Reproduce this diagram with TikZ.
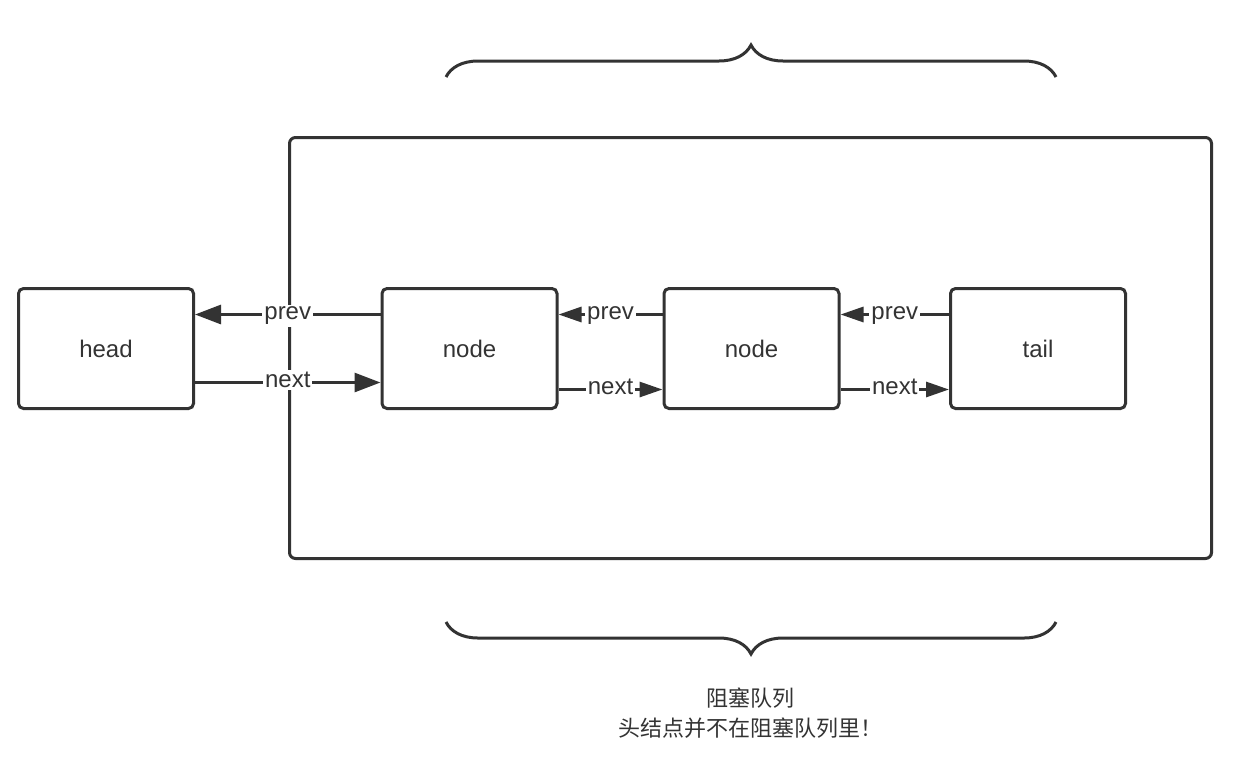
\documentclass[tikz,border=0pt]{standalone}
\usepackage{fontspec}
\setmainfont{Liberation Sans}
\newfontfamily\cjk{Noto Sans CJK SC}
\usetikzlibrary{arrows.meta,decorations.pathreplacing}
\definecolor{ink}{HTML}{333333}

\tikzset{
  box/.style={draw=ink, line width=1.5pt, rounded corners=2.5pt,
    minimum width=87.5pt, minimum height=60pt, inner sep=0pt,
    font=\fontsize{12}{14}\selectfont, text=ink},
  biglink/.style={ink, line width=1.5pt, -{Triangle[length=13pt,width=9.5pt]}},
  smalllink/.style={ink, line width=1.5pt, -{Triangle[length=11.5pt,width=7.5pt]}},
  tag/.style={fill=white, inner sep=1pt, anchor=mid, font=\fontsize{12}{14}\selectfont, text=ink},
  bracket/.style={ink, line width=1.5pt, decorate, decoration={brace, amplitude=16pt}},
}

\begin{document}
\begin{tikzpicture}[x=0.5pt,y=-0.5pt]
\useasboundingbox (0,0) rectangle (1240,777);
% the blocking queue
\draw[ink, line width=1.5pt, rounded corners=3pt] (289.5,137.5) rectangle (1211.5,558.5);
\draw[bracket] (446,77) -- (1056,77);
\draw[bracket] (1056,622) -- (446,622);

\node[box] (head) at (106,348.5) {head};
\node[box] (n1) at (469.5,348.5) {node};
\node[box] (n2) at (751.5,348.5) {node};
\node[box] (tail) at (1038,348.5) {tail};

\draw[biglink] ([yshift=17pt]n1.west) -- node[tag] {prev} ([yshift=17pt]head.east);
\draw[biglink] ([yshift=-17pt]head.east) -- node[tag] {next} ([yshift=-17pt]n1.west);
\draw[smalllink] ([yshift=17pt]n2.west) -- node[tag] {prev} ([yshift=17pt]n1.east);
\draw[smalllink] ([yshift=-20.5pt]n1.east) -- node[tag] {next} ([yshift=-20.5pt]n2.west);
\draw[smalllink] ([yshift=17pt]tail.west) -- node[tag] {prev} ([yshift=17pt]n2.east);
\draw[smalllink] ([yshift=-20.5pt]n2.east) -- node[tag] {next} ([yshift=-20.5pt]tail.west);

\node[align=center, text=ink, font=\cjk\fontsize{11}{15}\selectfont] (note) at (750,713)
  {阻塞队列\\头结点并不在阻塞队列里！};
\end{tikzpicture}
\end{document}
